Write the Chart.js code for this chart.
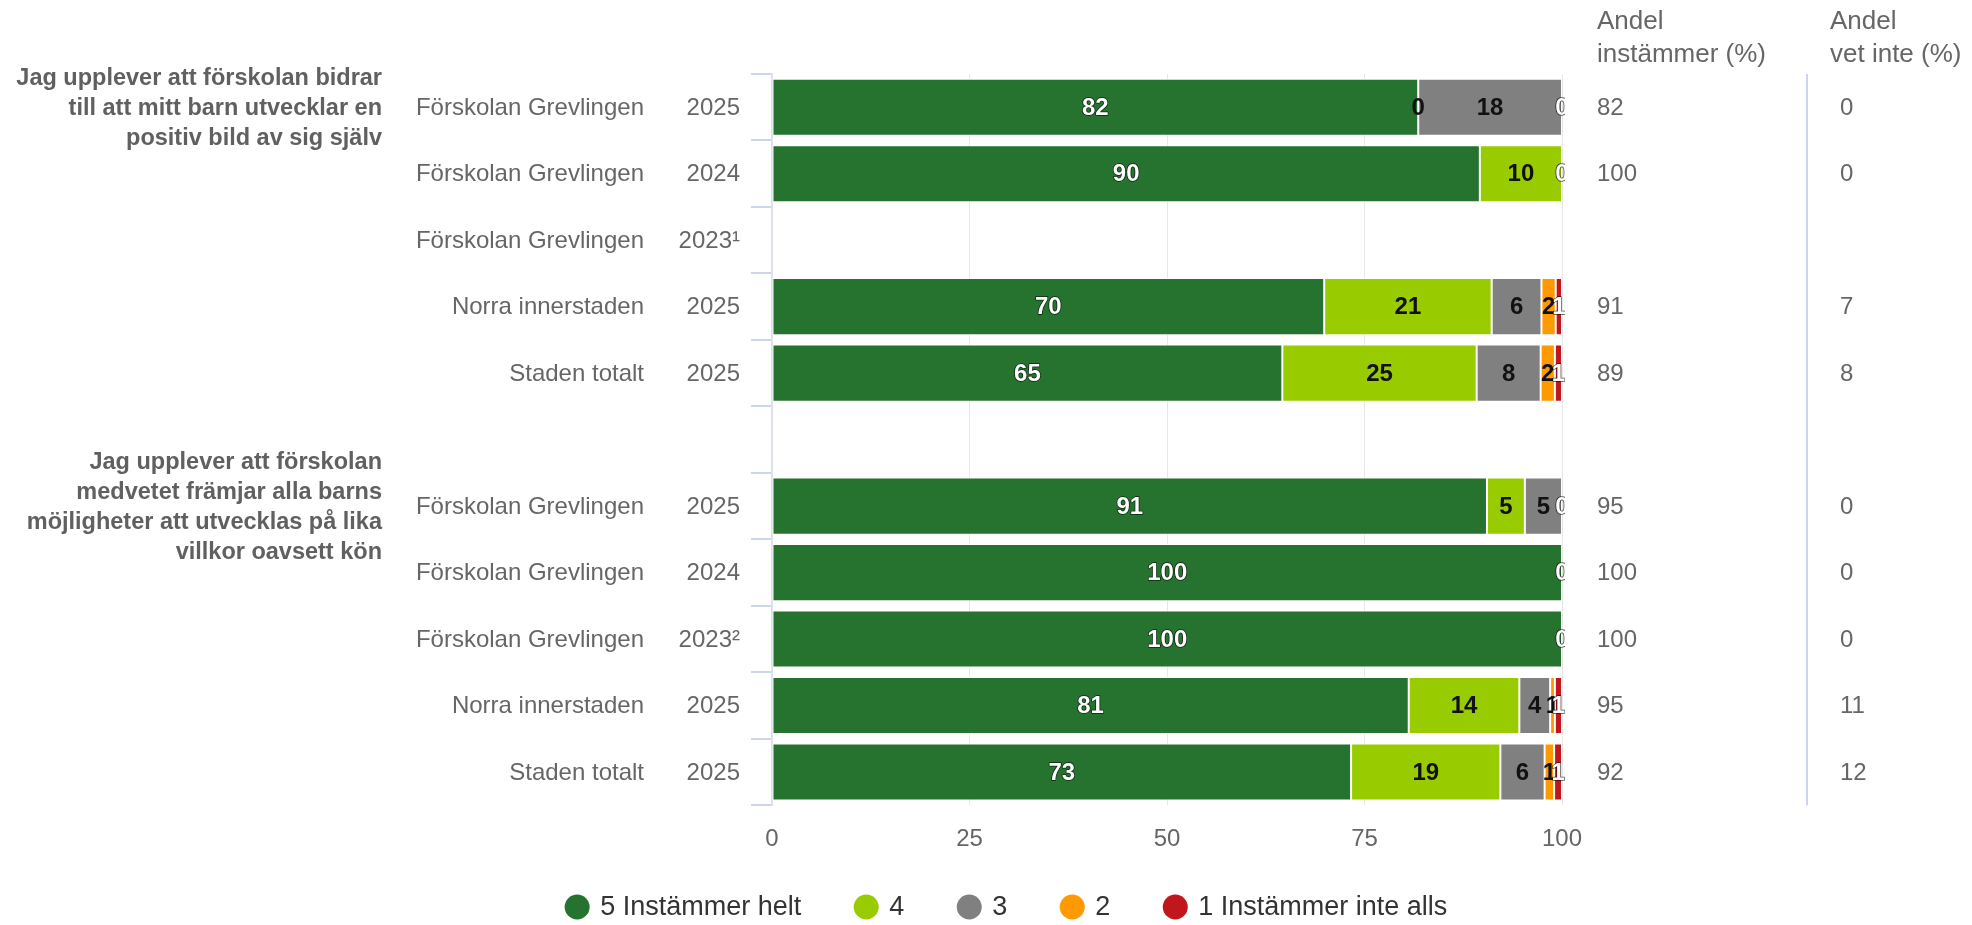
<!DOCTYPE html>
<html>
<head>
<meta charset="utf-8">
<script src="https://cdn.jsdelivr.net/npm/chart.js@4.4.1/dist/chart.umd.min.js"></script>
<style>
  html, body { margin: 0; padding: 0; background: #ffffff; }
  #wrap { position: relative; width: 1972px; height: 925px; }
</style>
</head>
<body>
<div id="wrap"><canvas id="chart"></canvas></div>
<script>
// rows, top to bottom (row 5 is the empty gap between the two questions)
const units = ['Förskolan Grevlingen', 'Förskolan Grevlingen', 'Förskolan Grevlingen', 'Norra innerstaden', 'Staden totalt', '',
  'Förskolan Grevlingen', 'Förskolan Grevlingen', 'Förskolan Grevlingen', 'Norra innerstaden', 'Staden totalt'];
const years = ['2025', '2024', '2023¹', '2025', '2025', '', '2025', '2024', '2023²', '2025', '2025'];

const questionLines = [
  ['Jag upplever att förskolan bidrar', 'till att mitt barn utvecklar en', 'positiv bild av sig själv'],
  ['Jag upplever att förskolan', 'medvetet främjar alla barns', 'möjligheter att utvecklas på lika', 'villkor oavsett kön'],
];
const questionRows = [0, 6];

const seriesNames = ['5 Instämmer helt', '4', '3', '2', '1 Instämmer inte alls'];
const seriesColors = ['#26722f', '#99cc00', '#808080', '#ff9900', '#c0161c'];

const s5 = [81.8, 89.6, null, 69.9, 64.6, null, 90.5, 100, 100, 80.6, 73.3];
const s4 = [0, 10.4, null, 21.2, 24.6, null, 4.8, 0, 0, 14.0, 18.9];
const s3 = [18.2, 0, null, 6.3, 8.1, null, 4.7, 0, 0, 3.9, 5.6];
const s2 = [0, 0, null, 1.8, 1.8, null, 0, 0, 0, 0.6, 1.2];
const s1 = [0, 0, null, 0.8, 0.9, null, 0, 0, 0, 0.9, 1.0];

const agreeShare = [82, 100, null, 91, 89, null, 95, 100, 100, 95, 92];
const dontKnowShare = [0, 0, null, 7, 8, null, 0, 0, 0, 11, 12];

const xTicks = [0, 25, 50, 75, 100];

const FONT = '"Liberation Sans", Arial, Helvetica, sans-serif';
const darkLabel = [true, false, false, false, true]; // white text on these series

// labels for values inside the bars
const barLabels = {
  id: 'barLabels',
  afterDatasetsDraw(chart) {
    const { ctx, chartArea } = chart;
    ctx.save();
    ctx.beginPath();
    ctx.rect(chartArea.left, chartArea.top, chartArea.width + 3, chartArea.height);
    ctx.clip();
    ctx.font = `bold 24px ${FONT}`;
    ctx.textAlign = 'center';
    ctx.textBaseline = 'middle';
    ctx.lineJoin = 'round';
    chart.data.datasets.forEach((ds, di) => {
      const meta = chart.getDatasetMeta(di);
      meta.data.forEach((bar, i) => {
        const v = ds.data[i];
        if (v === null || v === undefined) return;
        const x = (bar.x + bar.base) / 2;
        const txt = String(Math.round(v));
        if (darkLabel[di]) {
          ctx.strokeStyle = 'rgba(0,0,0,0.7)';
          ctx.lineWidth = 1.5;
          ctx.strokeText(txt, x, bar.y + 1);
          ctx.fillStyle = '#ffffff';
        } else {
          ctx.fillStyle = '#111111';
        }
        ctx.fillText(txt, x, bar.y + 1);
      });
    });
    ctx.restore();
  }
};

// category names, question texts, side columns and legend
const sideText = {
  id: 'sideText',
  afterDraw(chart) {
    const { ctx, chartArea } = chart;
    const y = chart.scales.y;
    ctx.save();
    ctx.textBaseline = 'middle';

    // unit + year
    ctx.fillStyle = '#666666';
    ctx.font = `24px ${FONT}`;
    ctx.textAlign = 'right';
    units.forEach((u, i) => {
      const py = y.getPixelForValue(i) + 1;
      ctx.fillText(u, chartArea.left - 128, py);
      ctx.fillText(years[i], chartArea.left - 32, py);
    });

    // question texts
    ctx.font = `bold 23.5px ${FONT}`;
    ctx.fillStyle = '#606060';
    questionLines.forEach((lines, q) => {
      const cy = y.getPixelForValue(questionRows[q]);
      lines.forEach((line, k) => {
        ctx.fillText(line, 382, cy + (k - (lines.length - 1) / 2) * 30 + 1);
      });
    });

    // right-hand columns
    const col1 = chartArea.right + 35;
    const col2 = chartArea.right + 278;
    ctx.fillStyle = '#666666';
    ctx.textAlign = 'left';
    ctx.font = `26px ${FONT}`;
    ctx.fillText('Andel', col1, 22);
    ctx.fillText('instämmer (%)', col1, 55);
    ctx.fillText('Andel', col2 - 10, 22);
    ctx.fillText('vet inte (%)', col2 - 10, 55);

    ctx.font = `24px ${FONT}`;
    agreeShare.forEach((v, i) => {
      if (v === null) return;
      const py = y.getPixelForValue(i) + 1;
      ctx.fillText(String(v), col1, py);
      ctx.fillText(String(dontKnowShare[i]), col2, py);
    });

    ctx.strokeStyle = '#ccd6eb';
    ctx.lineWidth = 2;
    ctx.beginPath();
    ctx.moveTo(col2 - 33, chartArea.top);
    ctx.lineTo(col2 - 33, chartArea.bottom);
    ctx.stroke();

    // legend
    ctx.font = `27px ${FONT}`;
    const r = 12.5, textGap = 23, itemGap = 65;
    const widths = seriesNames.map(n => ctx.measureText(n).width);
    let total = 0;
    widths.forEach((w, i) => {
      total += r + textGap + w;
      if (i < widths.length - 1) total += itemGap - r;
    });
    let x = 1006 - total / 2 + r;
    const ly = 907;
    seriesNames.forEach((n, i) => {
      ctx.fillStyle = seriesColors[i];
      ctx.beginPath();
      ctx.arc(x, ly, r, 0, Math.PI * 2);
      ctx.fill();
      ctx.fillStyle = '#333333';
      ctx.fillText(n, x + textGap, ly + 1);
      x += textGap + widths[i] + itemGap;
    });
    ctx.restore();
  }
};

const seriesData = [s5, s4, s3, s2, s1];

new Chart(document.getElementById('chart'), {
  type: 'bar',
  data: {
    labels: units.map((u, i) => u + ' ' + years[i]),
    datasets: seriesData.map((d, i) => ({
      label: seriesNames[i],
      data: d,
      backgroundColor: seriesColors[i],
      borderColor: '#ffffff',
      borderWidth: 1,
      borderSkipped: false,
      barPercentage: 1,
      categoryPercentage: 0.86,
    })),
  },
  options: {
    indexAxis: 'y',
    responsive: true,
    maintainAspectRatio: false,
    animation: false,
    layout: { padding: { left: 751, right: 410, top: 74, bottom: 51 } },
    plugins: {
      legend: { display: false },
      tooltip: { enabled: false },
    },
    scales: {
      x: {
        stacked: true,
        min: 0,
        max: 100,
        afterBuildTicks: (scale) => { scale.ticks = xTicks.map(v => ({ value: v })); },
        grid: { color: '#e6e6e6', lineWidth: 1, drawTicks: false },
        border: { display: false },
        ticks: { color: '#666666', font: { family: FONT, size: 24 }, padding: 20 },
      },
      y: {
        stacked: true,
        grid: { offset: true, drawOnChartArea: false, color: '#ccd6eb', lineWidth: 2, tickLength: 21 },
        border: { color: '#dde2ea', width: 2 },
        ticks: { display: false },
      },
    },
  },
  plugins: [barLabels, sideText],
});
</script>
</body>
</html>
